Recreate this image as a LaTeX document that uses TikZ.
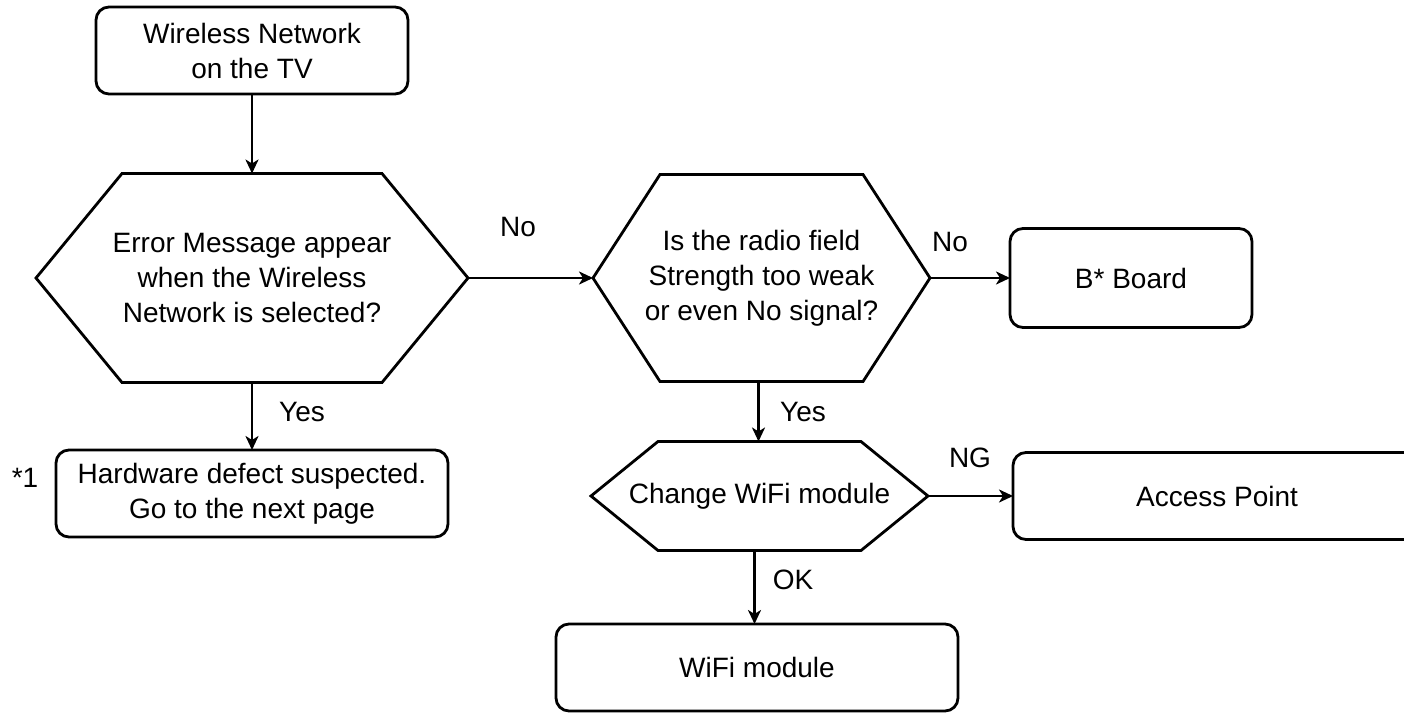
\documentclass[tikz,border=0pt]{standalone}
\usepackage{fontspec}
\setmainfont{Liberation Sans}
\usetikzlibrary{arrows.meta}
\newcommand\hexpath[2]{\draw[ln] (#1.west) -- ([xshift=#2]#1.north west) -- ([xshift=-#2]#1.north east) -- (#1.east) -- ([xshift=-#2]#1.south east) -- ([xshift=#2]#1.south west) -- cycle;}
\begin{document}
\begin{tikzpicture}[x=1pt,y=-1pt,
  every node/.style={font=\fontsize{28}{35}\selectfont, align=center, inner sep=0pt, outer sep=0pt},
  ln/.style={line width=2.8pt, line join=miter},
  rbox/.style={draw, ln, rounded corners=13pt},
  hexnode/.style={draw=none},
  lbl/.style={font=\fontsize{28}{35}\selectfont},
  arr/.style={ln, -{Stealth[length=14pt,width=13pt,inset=4pt]}}]
\useasboundingbox (0,0) rectangle (1404,712);

\node[rbox, minimum width=312pt, minimum height=87pt] (top) at (252,50.5) {Wireless Network\\on the TV};
\node[hexnode, minimum width=432pt, minimum height=209pt] (hex1) at (252,278) {Error Message appear\\when the Wireless\\Network is selected?};
\hexpath{hex1}{86}
\node[rbox, minimum width=392pt, minimum height=87pt] (hw) at (252,493.5) {Hardware defect suspected.\\Go to the next page};
\node[lbl] (star) at (25,478) {*1};

\node[hexnode, minimum width=337pt, minimum height=207pt] (hex2) at (761.5,278) {Is the radio field\\Strength too weak\\or even No signal?};
\hexpath{hex2}{67}
\node[rbox, minimum width=242pt, minimum height=99pt] (bb) at (1131,278) {B* Board};

\node[hexnode, minimum width=337pt, minimum height=109pt] (hex3) at (759.5,496) {Change WiFi module};
\hexpath{hex3}{67}
\node[rbox, minimum width=408pt, minimum height=87pt] (ap) at (1217,496) {Access Point};
\node[rbox, minimum width=402pt, minimum height=87pt] (wifi) at (757,667.5) {WiFi module};

\draw[arr] (top.south) -- (hex1.north);
\draw[arr] (hex1.south) -- (hw.north);
\draw[arr] (hex1.east) -- (hex2.west);
\draw[arr] (hex2.east) -- (bb.west);
\draw[arr] ([xshift=-3pt]hex2.south) -- ([xshift=-3pt]hex2.south |- hex3.north);
\draw[arr] ([xshift=-5pt]hex3.south) -- ([xshift=-5pt]hex3.south |- wifi.north);
\draw[arr] (hex3.east) -- (ap.west);

\node[lbl] (yes1) at (302,412) {Yes};
\node[lbl] (no1) at (518,227) {No};
\node[lbl] (no2) at (950,242) {No};
\node[lbl] (yes2) at (803,412) {Yes};
\node[lbl] (ng) at (970,458) {NG};
\node[lbl] (ok) at (793,580) {OK};
\end{tikzpicture}
\end{document}
